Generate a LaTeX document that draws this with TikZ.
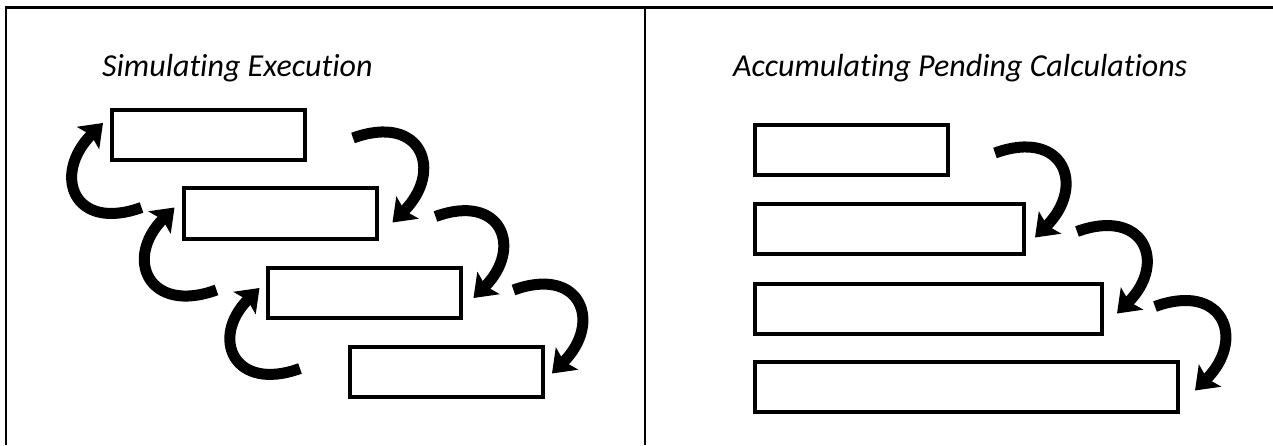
\documentclass[tikz,border=0pt]{standalone}
\usepackage{fontspec}
\setmainfont{Carlito}[Ligatures=NoCommon]
\usetikzlibrary{arrows.meta}

\tikzset{
    slot/.style={draw, line width=4pt, inner sep=0pt, minimum height=50pt},
    flow/.style={line width=11pt, -{Stealth[length=21pt,width=31pt,inset=4pt]}},
    heading/.style={font=\itshape\fontsize{32}{38}\selectfont, inner sep=0pt, anchor=base west},
}

\begin{document}
\begin{tikzpicture}[x=1pt, y=1pt]
    \useasboundingbox (0,0) rectangle (1273,445);

    % Frame
    \draw[line width=2.5pt] (6,0) -- (6,437.5) -- (1273,437.5);
    \draw[line width=2.5pt] (645,0) -- (645,437.5);

    % Headings
    \node[heading] (simhead) at (102,368) {Simulating Execution};
    \node[heading] (acchead) at (733,368) {Accumulating Pending Calculations};

    % Simulated execution: staggered frames
    \node[slot, minimum width=193pt] (l1) at (208.5,310) {};
    \node[slot, minimum width=193pt] (l2) at (280,231.5) {};
    \node[slot, minimum width=193pt] (l3) at (364,152) {};
    \node[slot, minimum width=193pt] (l4) at (446.5,73.5) {};

    % Going down
    \draw[flow] ([xshift=46pt,yshift=-3pt]l1.east) to[out=20, in=45, looseness=2] ([xshift=14pt,yshift=-9pt]l2.east);
    \draw[flow] ([xshift=57pt,yshift=-3pt]l2.east) to[out=20, in=45, looseness=2] ([xshift=11pt,yshift=-5pt]l3.east);
    \draw[flow] ([xshift=51pt,yshift=3pt]l3.east) to[out=20, in=45, looseness=2] ([xshift=7pt,yshift=-2pt]l4.east);

    % Coming back up
    \draw[flow] ([xshift=-40pt,yshift=6pt]l2.west) to[out=200, in=225, looseness=2] ([xshift=-7pt,yshift=12pt]l1.west);
    \draw[flow] ([xshift=-49pt,yshift=3pt]l3.west) to[out=200, in=225, looseness=2] ([xshift=-7pt,yshift=6pt]l2.west);
    \draw[flow] ([xshift=-48pt,yshift=3pt]l4.west) to[out=200, in=225, looseness=2] ([xshift=-6pt,yshift=5pt]l3.west);

    % Pending calculations: growing stack
    \node[slot, minimum width=193pt] (r1) at (851.5,295) {};
    \node[slot, minimum width=269pt] (r2) at (889.5,216.5) {};
    \node[slot, minimum width=347pt] (r3) at (928.5,136.5) {};
    \node[slot, minimum width=423pt] (r4) at (966.5,58.5) {};

    \draw[flow] ([xshift=45pt,yshift=-3pt]r1.east) to[out=20, in=45, looseness=2] ([xshift=9pt,yshift=-9pt]r2.east);
    \draw[flow] ([xshift=51pt,yshift=-3pt]r2.east) to[out=20, in=45, looseness=2] ([xshift=13pt,yshift=-5pt]r3.east);
    \draw[flow] ([xshift=51pt,yshift=2pt]r3.east) to[out=20, in=45, looseness=2] ([xshift=15pt,yshift=-4pt]r4.east);
\end{tikzpicture}
\end{document}
